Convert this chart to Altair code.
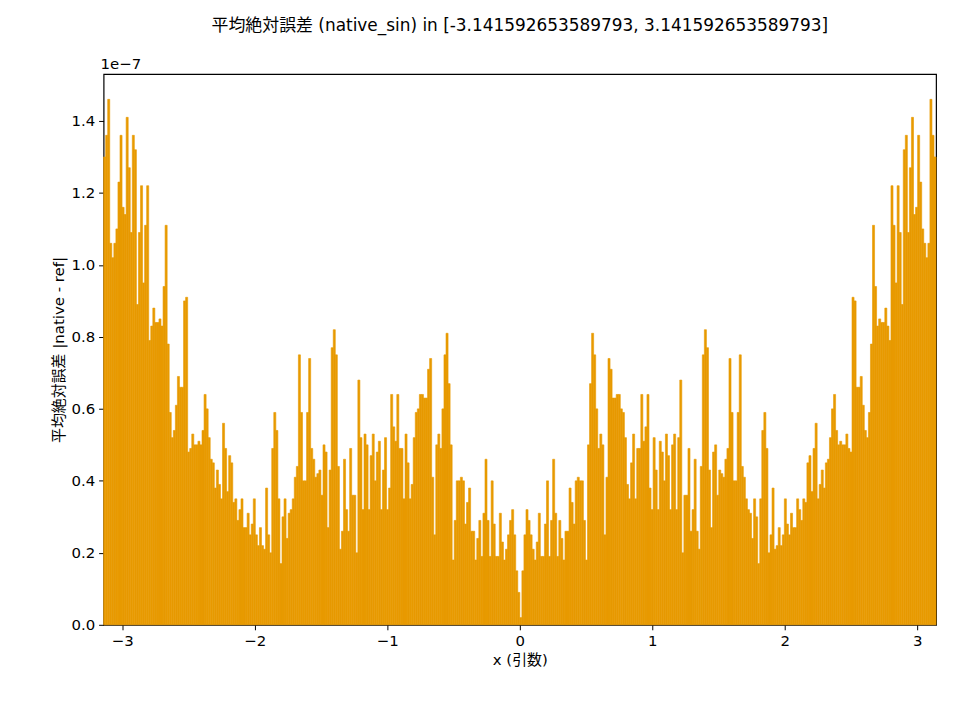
import math
import pandas as pd
import altair as alt

# bar heights (units of 1e-7), read left to right from -pi up to 0
left_vals = [
    1.30, 1.36, 1.46, 1.06, 1.02, 1.06, 1.10, 1.23, 1.36, 1.16, 1.14, 1.41, 1.27, 1.09, 1.36, 1.32,
    0.89, 1.09, 1.22, 0.95, 1.11, 1.22, 0.79, 0.83, 0.88, 0.84, 0.84, 0.85, 0.83, 0.94, 1.11, 0.78,
    0.59, 0.52, 0.54, 0.61, 0.69, 0.66, 0.66, 0.90, 0.91, 0.48, 0.49, 0.53, 0.50, 0.50, 0.51, 0.50,
    0.54, 0.64, 0.60, 0.52, 0.46, 0.45, 0.38, 0.43, 0.39, 0.35, 0.56, 0.49, 0.37, 0.47, 0.45, 0.34,
    0.35, 0.29, 0.32, 0.35, 0.27, 0.27, 0.31, 0.25, 0.28, 0.35, 0.25, 0.22, 0.27, 0.22, 0.21, 0.38,
    0.25, 0.20, 0.49, 0.59, 0.54, 0.35, 0.17, 0.30, 0.35, 0.24, 0.31, 0.32, 0.35, 0.41, 0.44, 0.75,
    0.59, 0.40, 0.40, 0.59, 0.74, 0.49, 0.46, 0.41, 0.42, 0.43, 0.36, 0.50, 0.48, 0.27, 0.43, 0.77,
    0.82, 0.75, 0.44, 0.21, 0.26, 0.46, 0.32, 0.26, 0.49, 0.36, 0.36, 0.20, 0.68, 0.52, 0.32, 0.53,
    0.50, 0.32, 0.47, 0.53, 0.40, 0.48, 0.51, 0.32, 0.43, 0.52, 0.32, 0.38, 0.64, 0.55, 0.51, 0.64,
    0.49, 0.49, 0.35, 0.53, 0.45, 0.35, 0.39, 0.52, 0.59, 0.60, 0.64, 0.64, 0.63, 0.63, 0.71, 0.74,
    0.41, 0.25, 0.50, 0.53, 0.49, 0.60, 0.75, 0.81, 0.67, 0.50, 0.18, 0.29, 0.40, 0.40, 0.41, 0.40,
    0.28, 0.34, 0.38, 0.26, 0.26, 0.18, 0.24, 0.29, 0.19, 0.31, 0.46, 0.29, 0.19, 0.40, 0.28, 0.19,
    0.19, 0.31, 0.23, 0.18, 0.21, 0.25, 0.29, 0.32, 0.25, 0.15, 0.09,
]
# the right half looks like a mirror image of the left one
right_vals = left_vals[::-1]
right_vals[0] = 0.02

values = left_vals + right_vals
n = len(values)
edges_lo = [-math.pi + 2 * math.pi * i / n for i in range(n)]
edges_hi = [-math.pi + 2 * math.pi * (i + 1) / n for i in range(n)]
df = pd.DataFrame({"x0": edges_lo, "x1": edges_hi, "err": values})

FONT = "DejaVu Sans, Noto Sans CJK JP"
ORANGE = "#E89A00"

bars = alt.Chart(df).mark_rect(color=ORANGE, stroke=ORANGE, strokeWidth=0.6).encode(
    x=alt.X("x0:Q", scale=alt.Scale(domain=[-math.pi, math.pi], nice=False, zero=False),
            axis=alt.Axis(values=[-3, -2, -1, 0, 1, 2, 3], format="d", grid=False,
                          title="x (引数)")),
    x2="x1:Q",
    y=alt.Y("err:Q", scale=alt.Scale(domain=[0, 1.53], nice=False),
            axis=alt.Axis(values=[0, 0.2, 0.4, 0.6, 0.8, 1.0, 1.2, 1.4], format=".1f",
                          grid=False, title="平均絶対誤差 |native - ref|")),
)

offset = alt.Chart(pd.DataFrame({"t": ["1e−7"]})).mark_text(
    align="left", baseline="bottom", fontSize=15, font=FONT, color="black"
).encode(x=alt.value(-3), y=alt.value(-2), text="t:N")

chart = alt.layer(bars, offset).properties(
    width=836, height=553,
    title=alt.TitleParams("平均絶対誤差 (native_sin) in [-3.141592653589793, 3.141592653589793]",
                          fontSize=17, fontWeight="normal", font=FONT, offset=22, anchor="middle"),
    padding={"left": 44, "top": 8, "right": 15, "bottom": 10},
).configure_view(stroke="black", strokeWidth=1.2).configure_axis(
    labelFont=FONT, titleFont=FONT, labelFontSize=15, titleFontSize=15, titleFontWeight="normal",
    labelColor="black", titleColor="black", tickColor="black", domain=False,
    tickSize=5, labelPadding=4,
)

chart.save("out.html", embed_options={"renderer": "svg", "actions": False})
